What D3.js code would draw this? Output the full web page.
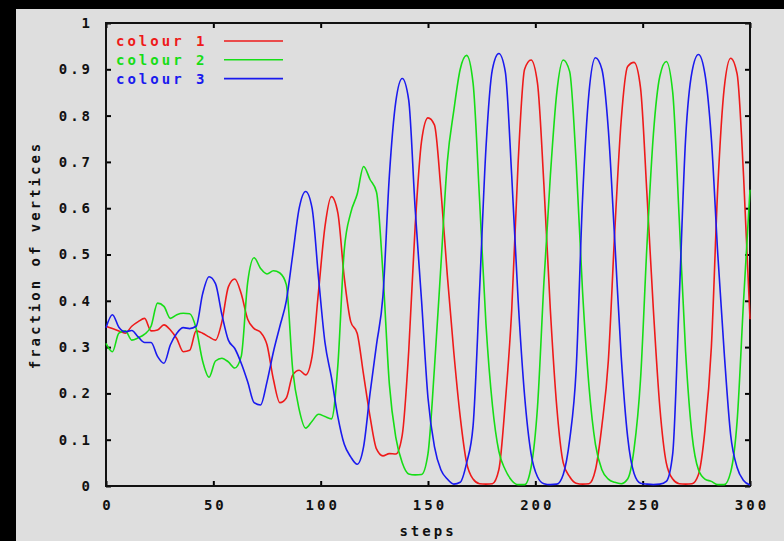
<!DOCTYPE html>
<html>
<head>
<meta charset="utf-8">
<script src="https://cdn.jsdelivr.net/npm/d3@7"></script>
<style>
  body { margin: 0; background: #000; }
  text { font-family: "DejaVu Sans Mono", monospace; font-weight: bold; }
</style>
</head>
<body>
<div class="chart"></div>
<script>
const steps = d3.range(0, 301, 3);

const colour1 = [
  0.345, 0.34, 0.335, 0.33, 0.345, 0.355, 0.362, 0.335, 0.337, 0.348,
  0.337, 0.318, 0.29, 0.293, 0.335, 0.33, 0.322, 0.315, 0.355, 0.43,
  0.447, 0.415, 0.36, 0.34, 0.332, 0.305, 0.23, 0.18, 0.19, 0.24,
  0.25, 0.24, 0.28, 0.42, 0.56, 0.625, 0.59, 0.45, 0.355, 0.33,
  0.24, 0.15, 0.08, 0.065, 0.07, 0.069, 0.11, 0.29, 0.56, 0.745,
  0.795, 0.78, 0.64, 0.455, 0.29, 0.15, 0.05, 0.015, 0.005, 0.004,
  0.005, 0.035, 0.18, 0.38, 0.7, 0.9, 0.92, 0.87, 0.65, 0.38,
  0.17, 0.05, 0.02, 0.006, 0.004, 0.005, 0.035, 0.13, 0.27, 0.55,
  0.79, 0.906, 0.915, 0.86, 0.63, 0.38, 0.17, 0.05, 0.015, 0.005,
  0.004, 0.005, 0.025, 0.12, 0.3, 0.646, 0.86, 0.924, 0.89, 0.67,
  0.36
];

const colour2 = [
  0.308, 0.29, 0.33, 0.335, 0.315, 0.32, 0.328, 0.345, 0.395, 0.388,
  0.362, 0.37, 0.373, 0.372, 0.34, 0.27, 0.235, 0.27, 0.276, 0.268,
  0.255, 0.28, 0.44, 0.493, 0.47, 0.458, 0.465, 0.46, 0.435, 0.25,
  0.165, 0.125, 0.14, 0.155, 0.15, 0.145, 0.26, 0.51, 0.59, 0.63,
  0.69, 0.662, 0.635, 0.46, 0.22, 0.105, 0.05, 0.026, 0.024, 0.025,
  0.07, 0.255, 0.475, 0.7, 0.81, 0.9, 0.93, 0.87, 0.62, 0.35,
  0.175, 0.075, 0.035, 0.012, 0.003, 0.003, 0.04, 0.17, 0.44, 0.67,
  0.85, 0.92, 0.895, 0.7, 0.42, 0.215, 0.09, 0.035, 0.015, 0.008,
  0.005, 0.015, 0.08, 0.23, 0.52, 0.76, 0.885, 0.917, 0.85, 0.58,
  0.29, 0.11, 0.035, 0.015, 0.01, 0.003, 0.003, 0.03, 0.14, 0.4,
  0.64
];

const colour3 = [
  0.342, 0.37, 0.343, 0.333, 0.336, 0.322, 0.31, 0.31, 0.28, 0.265,
  0.305, 0.33, 0.342, 0.34, 0.345, 0.415, 0.452, 0.437, 0.37, 0.315,
  0.297, 0.265, 0.225, 0.18, 0.175, 0.225, 0.29, 0.345, 0.4, 0.5,
  0.6, 0.636, 0.6, 0.45, 0.31, 0.235, 0.15, 0.09, 0.063, 0.047,
  0.085, 0.2, 0.305, 0.41, 0.67, 0.83, 0.88, 0.834, 0.6, 0.4,
  0.19, 0.085, 0.035, 0.015, 0.004, 0.008, 0.05, 0.13, 0.42, 0.73,
  0.9, 0.934, 0.895, 0.67, 0.4, 0.195, 0.07, 0.02, 0.005, 0.003,
  0.004, 0.025, 0.1, 0.25, 0.62, 0.85, 0.925, 0.9, 0.77, 0.53,
  0.28, 0.106, 0.027, 0.006, 0.004, 0.003, 0.004, 0.01, 0.07, 0.4,
  0.75, 0.895, 0.932, 0.89, 0.75, 0.5, 0.287, 0.11, 0.04, 0.012,
  0.002
];

const seriesNames = ['colour 1', 'colour 2', 'colour 3'];
const seriesColours = ['#ee1a1a', '#16dd16', '#1a1aee'];
const xTicks = [0, 50, 100, 150, 200, 250, 300];
const yTicks = [0, 0.1, 0.2, 0.3, 0.4, 0.5, 0.6, 0.7, 0.8, 0.9, 1];

const w = 784;
const h = 541;
const margin = { top: 23, right: 34, bottom: 55, left: 106 };

const svg = d3.select('.chart')
              .append('svg')
              .attr('width', w)
              .attr('height', h)
              .style('display', 'block');

// grey page with the black strip at the top and the left
svg.append('rect')
   .attr('width', w)
   .attr('height', h)
   .attr('fill', '#000');
svg.append('rect')
   .attr('x', 16)
   .attr('y', 9)
   .attr('width', w - 16)
   .attr('height', h - 9)
   .attr('fill', '#dedede');

const xScale = d3.scaleLinear()
                 .domain([0, 300])
                 .range([margin.left, w - margin.right]);

const yScale = d3.scaleLinear()
                 .domain([0, 1])
                 .range([h - margin.bottom, margin.top]);

const styleAxis = g => {
  g.select('.domain').remove();
  g.selectAll('.tick line').attr('stroke', '#000').attr('stroke-width', 2);
  g.selectAll('.tick text')
   .attr('fill', '#111')
   .style('font-size', '14px')
   .style('letter-spacing', '3px')
   .style('font-family', '"DejaVu Sans Mono", monospace')
   .style('font-weight', 'bold');
};

svg.append('g')
   .attr('transform', `translate(0, ${h - margin.bottom})`)
   .call(d3.axisBottom(xScale).tickValues(xTicks).tickSize(-5).tickPadding(14).tickFormat(d => d))
   .call(styleAxis)
   .selectAll('.tick text')
   .attr('dx', '1.5');

svg.append('g')
   .attr('transform', `translate(${margin.left}, 0)`)
   .call(d3.axisLeft(yScale).tickValues(yTicks).tickSize(-5).tickPadding(13).tickFormat(d => d))
   .call(styleAxis);

svg.append('g')
   .attr('transform', `translate(0, ${margin.top})`)
   .call(d3.axisTop(xScale).tickValues(xTicks).tickSize(-5).tickFormat(''))
   .call(styleAxis);

svg.append('g')
   .attr('transform', `translate(${w - margin.right}, 0)`)
   .call(d3.axisRight(yScale).tickValues(yTicks).tickSize(-5).tickFormat(''))
   .call(styleAxis);

// plot border
svg.append('rect')
   .attr('x', xScale(0))
   .attr('y', yScale(1))
   .attr('width', xScale(300) - xScale(0))
   .attr('height', yScale(0) - yScale(1))
   .attr('fill', 'none')
   .attr('stroke', '#111')
   .attr('stroke-width', 2);

const line = d3.line()
               .x((d, i) => xScale(steps[i]))
               .y(d => yScale(d))
               .curve(d3.curveMonotoneX);

[colour1, colour2, colour3].forEach((values, k) => {
  svg.append('path')
     .datum(values)
     .attr('d', line)
     .attr('fill', 'none')
     .attr('stroke', seriesColours[k])
     .attr('stroke-width', 1.6)
     .attr('stroke-linejoin', 'round');
});

// legend, top left inside the plot
const legend = svg.append('g');
seriesNames.forEach((name, k) => {
  const yy = 41 + k * 18.8;
  legend.append('text')
        .attr('x', 116)
        .attr('y', yy + 5)
        .attr('fill', seriesColours[k])
        .style('font-size', '14px')
        .style('letter-spacing', '3px')
        .text(name);
  legend.append('line')
        .attr('x1', 224)
        .attr('x2', 283)
        .attr('y1', yy)
        .attr('y2', yy)
        .attr('stroke', seriesColours[k])
        .attr('stroke-width', 1.6);
});

svg.append('text')
   .attr('transform', 'rotate(-90)')
   .attr('x', -255)
   .attr('y', 40)
   .attr('fill', '#111')
   .style('text-anchor', 'middle')
   .style('font-size', '14px')
   .style('letter-spacing', '3px')
   .text('fraction of vertices');

svg.append('text')
   .attr('x', 428)
   .attr('y', 536)
   .attr('fill', '#111')
   .style('text-anchor', 'middle')
   .style('font-size', '14px')
   .style('letter-spacing', '3px')
   .text('steps');
</script>
</body>
</html>
